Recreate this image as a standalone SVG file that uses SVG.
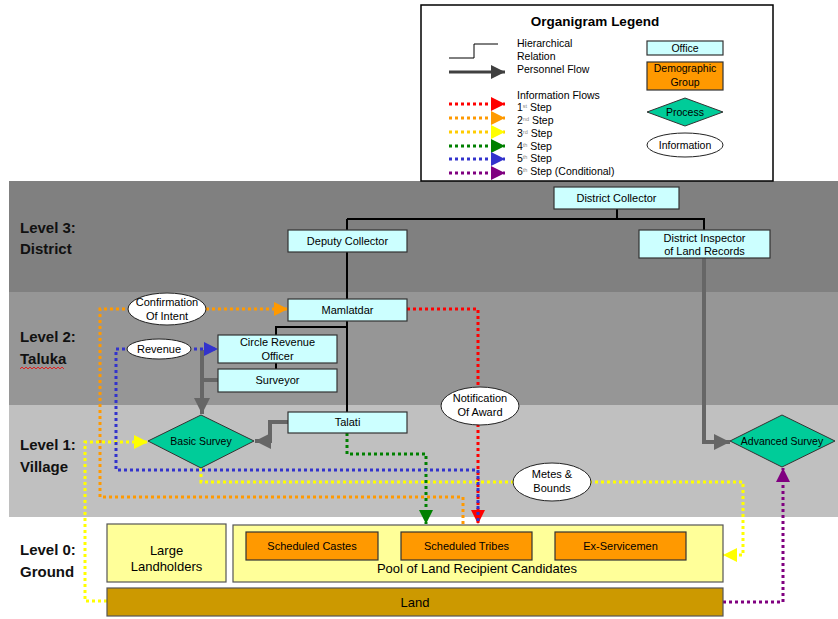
<svg xmlns="http://www.w3.org/2000/svg" width="838" height="619" viewBox="0 0 838 619">
<style>
text{font-family:"Liberation Sans",Arial,sans-serif;fill:#000}
.lvl{font-size:15px;font-weight:bold;fill:#111}
.office{fill:#ccffff;stroke:#333;stroke-width:1.2}
.demo{fill:#ff9900;stroke:#333;stroke-width:1.2}
.proc{fill:#00cc99;stroke:#333;stroke-width:1}
.info{fill:#fff;stroke:#222;stroke-width:1}
.t{font-size:11px;text-anchor:middle}
.ts{font-size:10.5px;text-anchor:middle}
.lg{font-size:10.5px}
.sup{font-size:5.5px;fill:#888}
.hier{fill:none;stroke:#000;stroke-width:2}
.pers{fill:none;stroke:#666;stroke-width:4}
.dot{fill:none;stroke-width:3;stroke-dasharray:3 3}
</style>
<defs>
<marker id="mRed" viewBox="0 0 14 14" markerWidth="14" markerHeight="14" refX="14" refY="7" orient="auto" markerUnits="userSpaceOnUse"><path d="M0,0 L14,7 L0,14 z" fill="#ff0000"/></marker>
<marker id="mOrange" viewBox="0 0 14 14" markerWidth="14" markerHeight="14" refX="14" refY="7" orient="auto" markerUnits="userSpaceOnUse"><path d="M0,0 L14,7 L0,14 z" fill="#ff9900"/></marker>
<marker id="mYellow" viewBox="0 0 14 14" markerWidth="14" markerHeight="14" refX="14" refY="7" orient="auto" markerUnits="userSpaceOnUse"><path d="M0,0 L14,7 L0,14 z" fill="#ffff00"/></marker>
<marker id="mGreen" viewBox="0 0 14 14" markerWidth="14" markerHeight="14" refX="14" refY="7" orient="auto" markerUnits="userSpaceOnUse"><path d="M0,0 L14,7 L0,14 z" fill="#008000"/></marker>
<marker id="mBlue" viewBox="0 0 14 14" markerWidth="14" markerHeight="14" refX="14" refY="7" orient="auto" markerUnits="userSpaceOnUse"><path d="M0,0 L14,7 L0,14 z" fill="#3333cc"/></marker>
<marker id="mPurple" viewBox="0 0 14 14" markerWidth="14" markerHeight="14" refX="14" refY="7" orient="auto" markerUnits="userSpaceOnUse"><path d="M0,0 L14,7 L0,14 z" fill="#800080"/></marker>
<marker id="mGray" viewBox="0 0 16 16" markerWidth="16" markerHeight="16" refX="16" refY="8" orient="auto" markerUnits="userSpaceOnUse"><path d="M0,0 L16,8 L0,16 z" fill="#666"/></marker>
<marker id="mDark" viewBox="0 0 14 14" markerWidth="14" markerHeight="14" refX="14" refY="7" orient="auto" markerUnits="userSpaceOnUse"><path d="M0,0 L14,7 L0,14 z" fill="#404040"/></marker>
</defs>

<rect width="838" height="619" fill="#fff"/>

<g id="bands">
<rect x="9" y="181" width="829" height="111" fill="#808080"/>
<rect x="9" y="292" width="829" height="113" fill="#969696"/>
<rect x="9" y="405" width="829" height="112" fill="#c0c0c0"/>
<text class="lvl" x="20" y="233">Level 3:</text>
<text class="lvl" x="20" y="254">District</text>
<text class="lvl" x="20" y="342">Level 2:</text>
<text class="lvl" x="20" y="364">Taluka</text>
<path d="M20,369 l2,-2 l2,2 l2,-2 l2,2 l2,-2 l2,2 l2,-2 l2,2 l2,-2 l2,2 l2,-2 l2,2 l2,-2 l2,2 l2,-2 l2,2 l2,-2 l2,2 l2,-2 l2,2 l2,-2 l2,2" fill="none" stroke="#e02020" stroke-width="1"/>
<text class="lvl" x="20" y="450">Level 1:</text>
<text class="lvl" x="20" y="472">Village</text>
<text class="lvl" x="20" y="555">Level 0:</text>
<text class="lvl" x="20" y="577">Ground</text>
</g>

<g id="legend">
<rect x="421" y="5" width="352" height="176" fill="#fff" stroke="#000" stroke-width="1.5"/>
<text x="595" y="26" style="font-size:13.5px;font-weight:bold;text-anchor:middle">Organigram Legend</text>
<path d="M449,58 H474 V44 H498" fill="none" stroke="#000" stroke-width="1"/>
<text class="lg" x="517" y="47">Hierarchical</text>
<text class="lg" x="517" y="60">Relation</text>
<line x1="449" y1="72" x2="505" y2="72" stroke="#404040" stroke-width="3" marker-end="url(#mDark)"/>
<text class="lg" x="517" y="73">Personnel Flow</text>
<text class="lg" x="517" y="99">Information Flows</text>
<line class="dot" x1="449" y1="104" x2="505" y2="104" stroke="#ff0000" marker-end="url(#mRed)"/>
<line class="dot" x1="449" y1="118" x2="505" y2="118" stroke="#ff9900" marker-end="url(#mOrange)"/>
<line class="dot" x1="449" y1="132" x2="505" y2="132" stroke="#ffcc00" marker-end="url(#mYellow)"/>
<line class="dot" x1="449" y1="146" x2="505" y2="146" stroke="#008000" marker-end="url(#mGreen)"/>
<line class="dot" x1="449" y1="159" x2="505" y2="159" stroke="#3333cc" marker-end="url(#mBlue)"/>
<line class="dot" x1="449" y1="173" x2="505" y2="173" stroke="#800080" marker-end="url(#mPurple)"/>
<text class="lg" x="517" y="111">1<tspan class="sup" dy="-3">st</tspan><tspan dy="3"> Step</tspan></text>
<text class="lg" x="517" y="124">2<tspan class="sup" dy="-3">nd</tspan><tspan dy="3"> Step</tspan></text>
<text class="lg" x="517" y="137">3<tspan class="sup" dy="-3">rd</tspan><tspan dy="3"> Step</tspan></text>
<text class="lg" x="517" y="150">4<tspan class="sup" dy="-3">th</tspan><tspan dy="3"> Step</tspan></text>
<text class="lg" x="517" y="162">5<tspan class="sup" dy="-3">th</tspan><tspan dy="3"> Step</tspan></text>
<text class="lg" x="517" y="175">6<tspan class="sup" dy="-3">th</tspan><tspan dy="3"> Step (Conditional)</tspan></text>
<rect class="office" x="647" y="41" width="76" height="14"/>
<text class="ts" x="685" y="52">Office</text>
<rect class="demo" x="647" y="62" width="76" height="28"/>
<text class="ts" x="685" y="72">Demographic</text>
<text class="ts" x="685" y="86">Group</text>
<polygon class="proc" points="647,112 685,98 723,112 685,126"/>
<text class="ts" x="685" y="116">Process</text>
<ellipse class="info" cx="685" cy="145" rx="38" ry="12"/>
<text class="ts" x="685" y="149">Information</text>
</g>

<g id="connectors">
<path class="hier" d="M617,209 V219 M347,219 H704 V230 M347,219 V230 M347,252 V299 M347,321 V412 M347,327 H276 V335 M276,363 V369"/>
<path class="pers" d="M704,258 V442 H730" marker-end="url(#mGray)"/>
<path class="pers" d="M218,380 H202"/>
<path class="pers" d="M202,350 V414" marker-end="url(#mGray)"/>
<path class="pers" d="M288,422 H270 V441 H255" marker-end="url(#mGray)"/>
<path class="dot" stroke="#ff0000" d="M407,309 H478 V524" marker-end="url(#mRed)"/>
<path class="dot" stroke="#ff9900" d="M463,524 V497 H100 V309 H288" marker-end="url(#mOrange)"/>
<path class="dot" stroke="#ffff00" d="M107,601 H85 V442 H148" marker-end="url(#mYellow)"/>
<path class="dot" stroke="#ffff00" d="M201,468 V482 H743 V555 H723" marker-end="url(#mYellow)"/>
<path class="dot" stroke="#008000" d="M347,433 V454 H426 V524" marker-end="url(#mGreen)"/>
<path class="dot" stroke="#3333cc" stroke-dashoffset="3" d="M478,524 V470 H116 V349 H218" marker-end="url(#mBlue)"/>
<path class="dot" stroke="#800080" d="M723,602 H783 V468" marker-end="url(#mPurple)"/>
</g>

<g id="district-collector"><rect class="office" x="554" y="187" width="125" height="22"/><text class="t" x="616.5" y="202">District Collector</text></g>
<g id="deputy-collector"><rect class="office" x="288" y="230" width="119" height="22"/><text class="t" x="347.5" y="245">Deputy Collector</text></g>
<g id="dilr"><rect class="office" x="639" y="230" width="131" height="28"/><text class="t" x="704.5" y="242">District Inspector</text><text class="t" x="704.5" y="255">of Land Records</text></g>
<g id="mamlatdar"><rect class="office" x="288" y="299" width="119" height="22"/><text class="t" x="347.5" y="314">Mamlatdar</text></g>
<g id="circle-revenue-officer"><rect class="office" x="218" y="335" width="119" height="28"/><text class="t" x="277.5" y="346">Circle Revenue</text><text class="t" x="277.5" y="360">Officer</text></g>
<g id="surveyor"><rect class="office" x="218" y="369" width="119" height="23"/><text class="t" x="277.5" y="384">Surveyor</text></g>
<g id="talati"><rect class="office" x="288" y="412" width="119" height="21"/><text class="t" x="347.5" y="426">Talati</text></g>
<g id="basic-survey"><polygon class="proc" points="148,441 201,415 254,441 201,468"/><text class="ts" x="201" y="445">Basic Survey</text></g>
<g id="advanced-survey"><polygon class="proc" points="730,441 782,415 835,441 782,467"/><text class="ts" x="782" y="445">Advanced Survey</text></g>
<g id="confirmation-of-intent"><ellipse class="info" cx="167" cy="309" rx="39" ry="16"/><text class="t" x="167" y="306">Confirmation</text><text class="t" x="167" y="320">Of Intent</text></g>
<g id="revenue"><ellipse class="info" cx="159" cy="349" rx="32" ry="10"/><text class="t" x="159" y="353">Revenue</text></g>
<g id="notification-of-award"><ellipse class="info" cx="480" cy="406" rx="39" ry="19"/><text class="t" x="480" y="402">Notification</text><text class="t" x="480" y="416">Of Award</text></g>
<g id="metes-bounds"><ellipse class="info" cx="552" cy="482" rx="39" ry="19"/><text class="t" x="552" y="478">Metes &amp;</text><text class="t" x="552" y="492">Bounds</text></g>

<g id="large-landholders"><rect x="107" y="524" width="119" height="58" fill="#ffff99" stroke="#555" stroke-width="1.2"/><text x="166.5" y="555" style="font-size:13px;text-anchor:middle">Large</text><text x="166.5" y="571" style="font-size:13px;text-anchor:middle">Landholders</text></g>
<g id="pool"><rect x="233" y="525" width="490" height="57" fill="#ffff99" stroke="#555" stroke-width="1.2"/><text x="477" y="573" style="font-size:13px;text-anchor:middle">Pool of Land Recipient Candidates</text></g>
<g id="scheduled-castes"><rect class="demo" x="246" y="532" width="132" height="28"/><text class="t" x="312" y="550">Scheduled Castes</text></g>
<g id="scheduled-tribes"><rect class="demo" x="401" y="532" width="131" height="28"/><text class="t" x="466.5" y="550">Scheduled Tribes</text></g>
<g id="ex-servicemen"><rect class="demo" x="555" y="532" width="131" height="28"/><text class="t" x="620.5" y="550">Ex-Servicemen</text></g>
<g id="land"><rect x="107" y="588" width="616" height="28" fill="#cc9900" stroke="#555" stroke-width="1.2"/><text x="415" y="607" style="font-size:13px;text-anchor:middle">Land</text></g>
</svg>
